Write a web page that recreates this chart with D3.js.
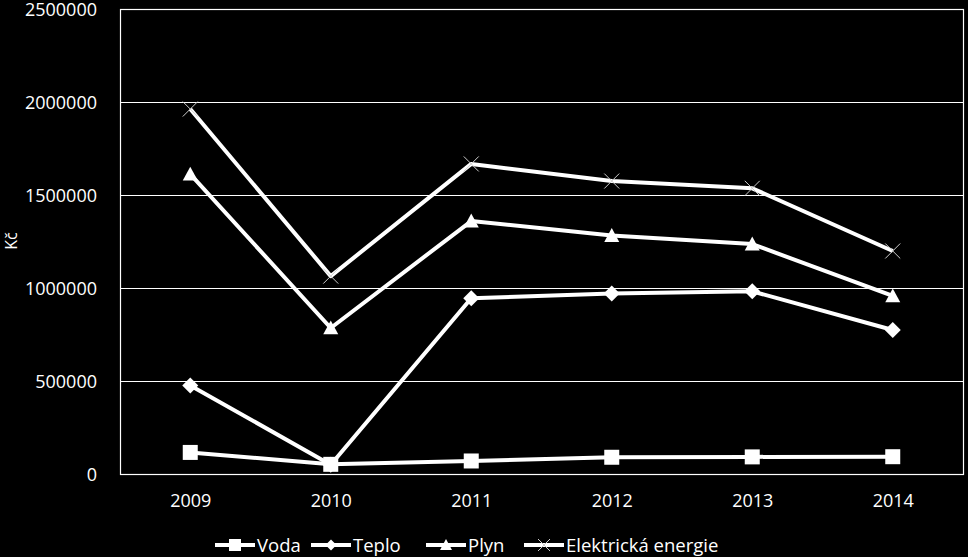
<!DOCTYPE html>
<meta charset="utf-8">
<style>
  body { margin: 0; background: #000; }
  svg text { font-family: "Open Sans", "Liberation Sans", sans-serif; fill: #fff; }
</style>
<script src="https://d3js.org/d3.v7.min.js"></script>
<div id="chart"></div>
<script>

// data
var years = ["2009", "2010", "2011", "2012", "2013", "2014"];
var voda = [116000, 52000, 70000, 90000, 92000, 93000];
var teplo = [476000, 50000, 945000, 971000, 982000, 774000];
var plyn = [1612000, 785000, 1360000, 1282000, 1236000, 957000];
var elektrina = [1962000, 1064000, 1667000, 1575000, 1536000, 1199000];
var yTicks = [0, 500000, 1000000, 1500000, 2000000, 2500000];

var series = [
  {name: "Voda", values: voda, symbol: "square"},
  {name: "Teplo", values: teplo, symbol: "diamond"},
  {name: "Plyn", values: plyn, symbol: "triangle"},
  {name: "Elektrická energie", values: elektrina, symbol: "cross"}
];

var width = 968, height = 557;
var margin = {top: 9, right: 5, bottom: 83, left: 120};
var w = width - margin.left - margin.right,
    h = height - margin.top - margin.bottom;

var svg = d3.select("#chart")
  .append("svg")
    .attr("width", width)
    .attr("height", height)
    .style("background", "#000");

var g = svg.append("g")
    .attr("transform", "translate(" + margin.left + "," + margin.top + ")");

var x = d3.scalePoint()
  .domain(years)
  .range([0, w])
  .padding(0.5);

var y = d3.scaleLinear()
  .domain([0, 2500000])
  .range([h, 0]);

// gridlines
g.selectAll(".grid")
  .data(yTicks)
  .enter()
  .append("line")
    .attr("x1", 0)
    .attr("x2", w)
    .attr("y1", function(d) { return Math.round(y(d)) + 0.5 })
    .attr("y2", function(d) { return Math.round(y(d)) + 0.5 })
    .attr("stroke", "#fff")
    .attr("stroke-width", 1.2);

// plot border
g.append("rect")
  .attr("x", 0.5)
  .attr("y", 0.5)
  .attr("width", w)
  .attr("height", h)
  .attr("fill", "none")
  .attr("stroke", "#fff")
  .attr("stroke-width", 1.2);

// y axis
var yAxis = g.append("g")
  .attr("transform", "translate(-20,0)")
  .call(d3.axisLeft(y).tickValues(yTicks).tickFormat(d3.format("d")).tickSize(0));
yAxis.select(".domain").remove();
yAxis.selectAll("text")
  .style("font-size", "18px")
  .attr("dy", "0.36em");

// x axis
var xAxis = g.append("g")
  .attr("transform", "translate(0," + h + ")")
  .call(d3.axisBottom(x).tickSize(0));
xAxis.select(".domain").remove();
xAxis.selectAll("text")
  .style("font-size", "18px")
  .attr("y", 27)
  .attr("dy", "0.36em");

// y title
svg.append("text")
  .attr("transform", "translate(11,241) rotate(-90)")
  .attr("text-anchor", "middle")
  .attr("dy", "0.35em")
  .style("font-size", "16px")
  .text("Kč");

function drawMarker(sel, symbol, size) {
  var s = size / 2, p;
  if (symbol === "cross") {
    sel.append("path")
      .attr("d", "M" + (-s) + "," + (-s) + "L" + s + "," + s + "M" + (-s) + "," + s + "L" + s + "," + (-s))
      .attr("stroke", "#ccc")
      .attr("stroke-width", 1)
      .attr("fill", "none");
    return;
  }
  if (symbol === "square") p = "M" + (-s) + "," + (-s) + "H" + s + "V" + s + "H" + (-s) + "Z";
  if (symbol === "diamond") p = "M0," + (-s) + "L" + s + ",0L0," + s + "L" + (-s) + ",0Z";
  if (symbol === "triangle") p = "M0," + (-s) + "L" + s + "," + (s * 0.85) + "L" + (-s) + "," + (s * 0.85) + "Z";
  sel.append("path")
    .attr("d", p)
    .attr("fill", "#fff");
}

var line = d3.line()
  .x(function(d, i) { return x(years[i]) })
  .y(function(d) { return y(d) });

series.forEach(function(s) {
  g.append("path")
    .datum(s.values)
    .attr("d", line)
    .attr("fill", "none")
    .attr("stroke", "#fff")
    .attr("stroke-width", 4)
    .attr("stroke-linejoin", "round");

  s.values.forEach(function(v, i) {
    var m = g.append("g")
      .attr("transform", "translate(" + x(years[i]) + "," + y(v) + ")");
    drawMarker(m, s.symbol, s.symbol === "diamond" ? 16 : 15);
  });
});

// legend
var legendX = [215, 311, 426, 524];
var legend = svg.append("g");
series.forEach(function(s, i) {
  var item = legend.append("g")
    .attr("transform", "translate(" + legendX[i] + ",545)");
  item.append("line")
    .attr("x1", 0)
    .attr("x2", 40)
    .attr("stroke", "#fff")
    .attr("stroke-width", 4);
  var m = item.append("g").attr("transform", "translate(20,0)");
  drawMarker(m, s.symbol, s.symbol === "diamond" ? 11 : 12);
  item.append("text")
    .attr("x", 42)
    .attr("dy", "0.36em")
    .style("font-size", "18.5px")
    .text(s.name);
});

</script>
